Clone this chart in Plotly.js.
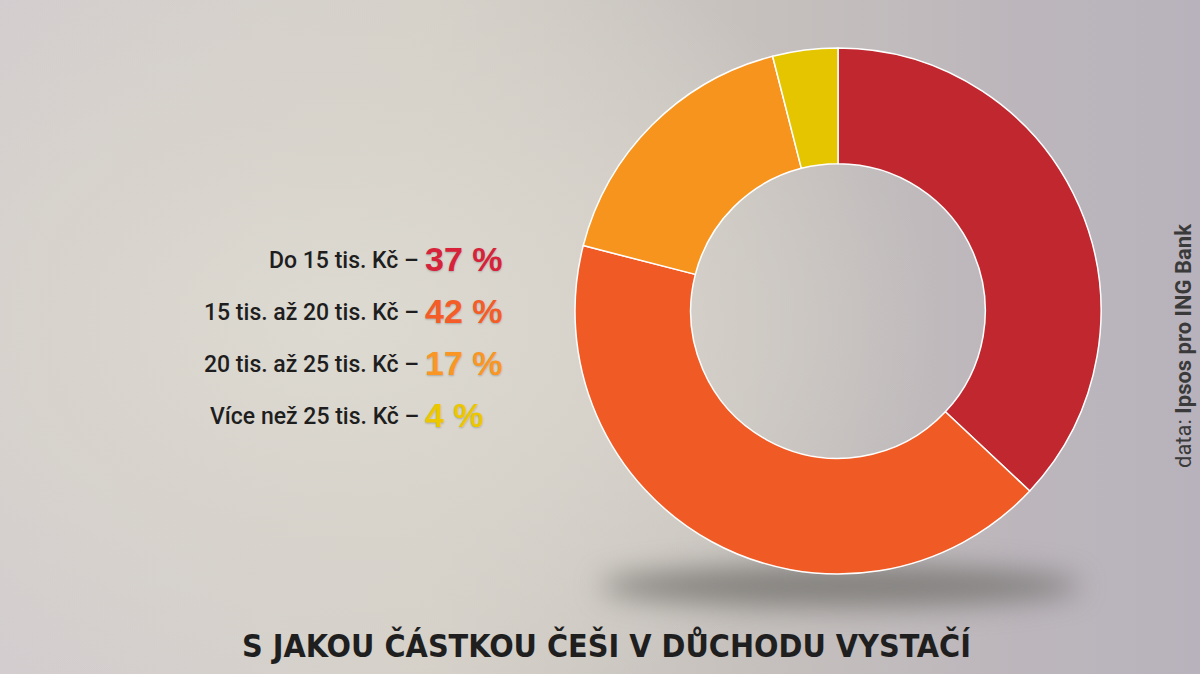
<!DOCTYPE html>
<html>
<head>
<meta charset="utf-8">
<script src="https://cdn.plot.ly/plotly-3.0.1.min.js"></script>
<style>
html,body{margin:0;padding:0;width:1200px;height:674px;overflow:hidden;}
body{
  background:
    radial-gradient(ellipse 50% 60% at 28% 48%, rgba(221,218,210,1) 0%, rgba(216,212,204,0.85) 50%, rgba(216,212,204,0) 100%),
    linear-gradient(90deg, #d3cdcf 0%, #d5d1c9 35%, #c6c1bd 62%, #bcb6bc 85%, #b8b2bc 100%);
}
#shadow{position:absolute;left:600px;top:565px;width:480px;height:42px;border-radius:50%;
  background:rgba(110,108,104,0.75);filter:blur(14px);}
#chart{position:absolute;left:0;top:0;width:1200px;height:674px;}
</style>
</head>
<body>
<div id="shadow"></div>
<div id="chart"></div>
<script>
const categories = ["Do 15 tis. Kč", "15 tis. až 20 tis. Kč", "20 tis. až 25 tis. Kč", "Více než 25 tis. Kč"];
const values = [37, 42, 17, 4];
const sliceColors = ["#c1272f", "#f05a24", "#f7941e", "#e5c500"];
const valueColors = ["#d7223a", "#f45d28", "#fa9623", "#ecc700"];
const titleText = "S JAKOU ČÁSTKOU ČEŠI V DŮCHODU VYSTAČÍ";
const sourceText = "data: <b>Ipsos pro ING Bank</b>";

const W = 1200, H = 674;
const rowY = [260, 312, 364, 416];

const annotations = [];
categories.forEach((c, i) => {
  annotations.push({
    xref: "paper", yref: "paper", x: 421 / W, y: 1 - rowY[i] / H,
    xanchor: "right", yanchor: "middle", showarrow: false,
    text: c + " –",
    font: {family: "Roboto, 'Noto Sans', sans-serif", size: 23, color: "#1e1e1e", weight: 500}
  });
  annotations.push({
    xref: "paper", yref: "paper", x: 423 / W, y: 1 - (rowY[i] - 1) / H,
    xanchor: "left", yanchor: "middle", showarrow: false,
    text: "<b>" + values[i] + " %</b>",
    font: {family: "'Liberation Sans', Arial, sans-serif", size: 34, color: valueColors[i],
           shadow: "0px 1px 2px rgba(0,0,0,0.22)"}
  });
});
annotations.push({
  xref: "paper", yref: "paper", x: 606 / W, y: 1 - 645 / H,
  xanchor: "center", yanchor: "middle", showarrow: false,
  text: "<b>" + titleText + "</b>",
  font: {family: "'DejaVu Sans Condensed', sans-serif", size: 32, color: "#1f1f1f"}
});
annotations.push({
  xref: "paper", yref: "paper", x: 1183 / W, y: 1 - 346 / H,
  xanchor: "center", yanchor: "middle", showarrow: false, textangle: -90,
  text: sourceText,
  font: {family: "Roboto, 'Noto Sans', sans-serif", size: 22, color: "#3a3a3a"}
});

const data = [{
  type: "pie",
  labels: categories,
  values: values,
  sort: false,
  direction: "clockwise",
  rotation: 0,
  hole: 0.56,
  textinfo: "none",
  hoverinfo: "none",
  marker: {colors: sliceColors, line: {color: "#ffffff", width: 1.5}},
  domain: {x: [575 / W, 1101 / W], y: [1 - 574 / H, 1 - 48 / H]},
  showlegend: false
}];

const layout = {
  width: W, height: H,
  margin: {l: 0, r: 0, t: 0, b: 0},
  paper_bgcolor: "rgba(0,0,0,0)",
  plot_bgcolor: "rgba(0,0,0,0)",
  showlegend: false,
  annotations: annotations
};

Plotly.newPlot("chart", data, layout, {displayModeBar: false, staticPlot: true});
</script>
</body>
</html>
